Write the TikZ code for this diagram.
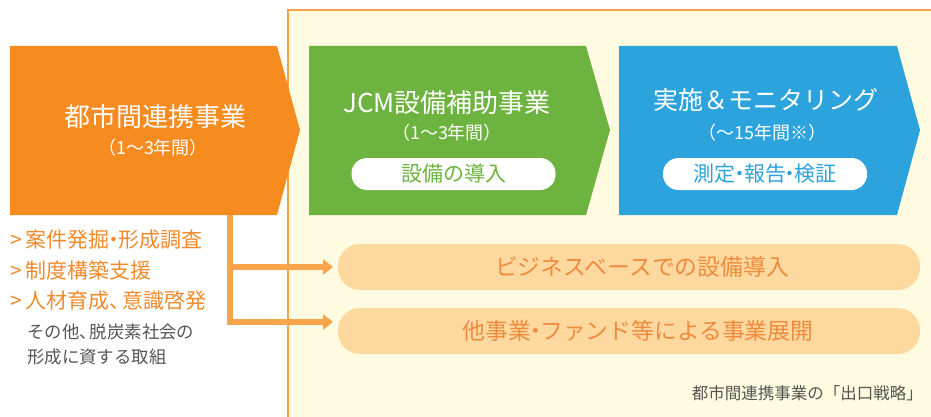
\documentclass[tikz,border=0pt]{standalone}
\usepackage{fontspec}
\setmainfont{Noto Sans CJK JP}
\usetikzlibrary{arrows.meta}
\definecolor{cream}{HTML}{FFFBE0}
\definecolor{panelline}{HTML}{F7A24A}
\definecolor{orangebox}{HTML}{F68B1F}
\definecolor{greenbox}{HTML}{6DB33F}
\definecolor{bluebox}{HTML}{2CA3DC}
\definecolor{peach}{HTML}{FDD9A0}
\definecolor{peachtext}{HTML}{F08A3C}
\definecolor{conncol}{HTML}{F9A54C}
\definecolor{listorange}{HTML}{F08A2C}
\definecolor{graytext}{HTML}{555555}
\newcommand\mydot{\kern-0.3em・\kern-0.3em}
\newcommand\mycomma{、\kern-0.4em}
\tikzset{
  title/.style={text=white, font=\fontsize{26}{29}\selectfont, inner sep=0pt},
  subtitle/.style={text=white, font=\fontsize{18}{21}\selectfont, inner sep=0pt},
  whitepill/.style={fill=white, rounded corners=15.5pt, minimum width=204pt, minimum height=32pt, inner sep=0pt, font=\fontsize{21}{24}\selectfont},
  peachpill/.style={fill=peach, rounded corners=22pt, minimum width=582pt, minimum height=46pt, inner sep=0pt},
  pilltext/.style={inner sep=0pt, text=peachtext, font=\fontsize{22.8}{26}\selectfont},
  listitem/.style={anchor=west, inner sep=0pt, text=listorange, font=\fontsize{21}{24}\selectfont},
  grayitem/.style={anchor=west, inner sep=0pt, text=graytext, font=\fontsize{17.4}{20}\selectfont},
  conn/.style={draw=conncol, line width=6pt, -{Triangle[length=10pt,width=15pt]}},
}
\begin{document}
\begin{tikzpicture}[x=1pt,y=-1pt]
\useasboundingbox (0,0) rectangle (931,417);
% panel
\fill[cream] (288,10) rectangle (931,417);
\draw[panelline, line width=2pt] (288,417) -- (288,10) -- (931,10);
% connectors
\coordinate (stem) at (230,215);
\coordinate (tipA) at (333,267);
\coordinate (tipB) at (333,322);
\draw[conn] (stem) |- (tipA);
\draw[conn] (stem) |- (tipB);
% pentagons
\fill[orangebox] (10,46) -- (277,46) -- (300,130) -- (277,215) -- (10,215) -- cycle;
\fill[greenbox] (309,46) -- (586,46) -- (610,130) -- (586,215) -- (309,215) -- cycle;
\fill[bluebox] (619,46) -- (897,46) -- (920,130) -- (897,215) -- (619,215) -- cycle;
% orange texts
\node[title] (ot) at (155,117) {都市間連携事業};
\node[subtitle] (os) at (153,148) {（1～3年間）};
% green texts
\node[title] (gt) at (447,103) {JCM設備補助事業};
\node[subtitle] (gs) at (447,133) {（1～3年間）};
\node[whitepill, text=greenbox] (gp) at (453.5,174) {設備の導入};
% blue texts
\node[title, font=\fontsize{25}{28}\selectfont] (bt) at (766,100) {実施＆モニタリング};
\node[subtitle] (bs) at (762,133) {（～15年間※）};
\node[whitepill, text=bluebox] (bp) at (765,174) {測定\mydot 報告\mydot 検証};
% left list
\node[listitem] (l1) at (10,240) {>\kern4pt 案件発掘\mydot 形成調査};
\node[listitem] (l2) at (10,270) {>\kern4pt 制度構築支援};
\node[listitem] (l3) at (10,301) {>\kern4pt 人材育成\mycomma 意識啓発};
\node[grayitem] (g1) at (27,332) {その他\mycomma 脱炭素社会の};
\node[grayitem] (g2) at (27,357) {形成に資する取組};
% pills
\node[peachpill] (pa) at (629,267) {};
\node[pilltext] (pat) at (642,267) {ビジネスベースでの設備導入};
\node[peachpill] (pb) at (629,331) {};
\node[pilltext] (pbt) at (638,331) {他事業\mydot ファンド等による事業展開};
% footer
\node[anchor=east, inner sep=0pt, text=graytext, font=\fontsize{16.5}{19}\selectfont] (ft) at (923,393) {都市間連携事業の「出口戦略」};
\end{tikzpicture}
\end{document}
